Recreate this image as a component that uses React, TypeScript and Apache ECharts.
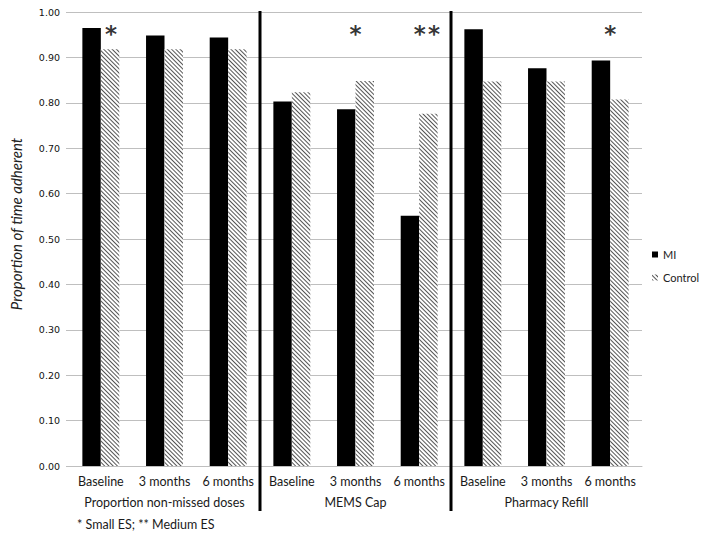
import React, { useEffect, useRef } from "react";
import * as echarts from "echarts";

const timepoints = ["Baseline", "3 months", "6 months", "Baseline", "3 months", "6 months", "Baseline", "3 months", "6 months"];
const measures = ["Proportion non-missed doses", "MEMS Cap", "Pharmacy Refill"];
const miValues = [0.965, 0.948, 0.944, 0.803, 0.786, 0.551, 0.962, 0.876, 0.893];
const controlValues = [0.918, 0.918, 0.918, 0.823, 0.848, 0.776, 0.847, 0.847, 0.807];
const separatorPositions = [3, 6];
const asteriskX = [0.66, 4.5, 5.62, 8.5];
const asteriskLabels = ["*", "*", "*\u200A*", "*"];
const asteriskLevel = 0.963;
const footnote = "* Small ES; ** Medium ES";

export default function App() {
  const ref = useRef<HTMLDivElement>(null);
  useEffect(() => {
    const chart = echarts.init(ref.current!, null, { renderer: "svg" });
    const gray = "#bfbfbf";
    const font = "Lato";
    chart.setOption({
      animation: false,
      backgroundColor: "#fff",
      grid: { left: 64, right: 62, top: 12, bottom: 73 },
      legend: {
        orient: "vertical",
        left: 652,
        top: 249,
        width: 52,
        padding: 0,
        itemWidth: 6,
        itemHeight: 6,
        itemGap: 12,
        icon: "rect",
        textStyle: { fontFamily: font, fontSize: 11, color: "#222", overflow: "none" },
        data: ["MI", "Control"],
      },
      xAxis: [
        {
          type: "category",
          data: timepoints,
          position: "bottom",
          axisLine: { lineStyle: { color: gray } },
          axisTick: { length: 22, interval: 0, lineStyle: { color: gray } },
          axisLabel: { interval: 0, margin: 9, fontFamily: font, fontSize: 12.5, color: "#1a1a1a" },
        },
        {
          type: "category",
          data: measures,
          position: "bottom",
          axisLine: { show: false },
          axisTick: { length: 43, interval: 0, lineStyle: { color: gray } },
          axisLabel: { interval: 0, margin: 30, fontFamily: font, fontSize: 12.5, color: "#1a1a1a" },
        },
        { type: "value", min: 0, max: 9, show: false },
      ],
      yAxis: {
        type: "value",
        min: 0,
        max: 1,
        interval: 0.1,
        name: "Proportion of time adherent",
        nameLocation: "middle",
        nameGap: 46,
        nameTextStyle: {
          fontFamily: font,
          fontStyle: "italic",
          fontSize: 15,
          color: "#222",
          padding: [0, 0, 0, 30],
        },
        axisLine: { show: false },
        axisTick: { show: true, length: 3, lineStyle: { color: gray } },
        axisLabel: {
          formatter: (v: number) => v.toFixed(2),
          fontFamily: "DejaVu Sans",
          fontSize: 9.5,
          color: "#111",
          margin: 9,
        },
        splitLine: { lineStyle: { color: gray } },
      },
      series: [
        {
          name: "MI",
          type: "bar",
          xAxisIndex: 0,
          data: miValues,
          barGap: "0%",
          barCategoryGap: "42%",
          itemStyle: { color: "#000" },
        },
        {
          name: "Control",
          type: "bar",
          xAxisIndex: 0,
          data: controlValues,
          itemStyle: {
            color: "#fff",
            decal: {
              symbol: "rect",
              symbolSize: 1,
              dashArrayX: [1, 0],
              dashArrayY: [1, 1.5],
              rotation: Math.PI / 4,
              color: "#555",
              backgroundColor: "#fff",
            },
          },
        },
        {
          type: "custom",
          xAxisIndex: 2,
          yAxisIndex: 0,
          silent: true,
          z: 10,
          data: separatorPositions.map((p) => [p, 1]),
          renderItem: (params: any, api: any) => {
            const top = api.coord([api.value(0), 1]);
            const bottom = api.coord([api.value(0), 0]);
            return {
              type: "line",
              shape: { x1: top[0], y1: top[1] - 1, x2: top[0], y2: bottom[1] + 45 },
              style: { stroke: "#000", lineWidth: 3 },
            };
          },
        },
        {
          type: "scatter",
          xAxisIndex: 2,
          yAxisIndex: 0,
          silent: true,
          symbolSize: 0,
          data: asteriskX.map((x, i) => ({ value: [x, asteriskLevel], name: asteriskLabels[i] })),
          label: {
            show: true,
            position: "inside",
            formatter: (p: any) => p.name,
            fontFamily: "DejaVu Sans",
            fontWeight: "bold",
            fontSize: 23,
            color: "#000",
            offset: [0, 5],
          },
        },
      ],
      graphic: [
        {
          type: "text",
          left: 77,
          top: 518,
          style: { text: footnote, fontFamily: font, fontSize: 12.5, fill: "#1a1a1a" },
        },
      ],
    });
    return () => chart.dispose();
  }, []);
  return (
    <div
      ref={ref}
      style={{ position: "absolute", left: 0, top: 0, width: 704, height: 539 }}
    />
  );
}
